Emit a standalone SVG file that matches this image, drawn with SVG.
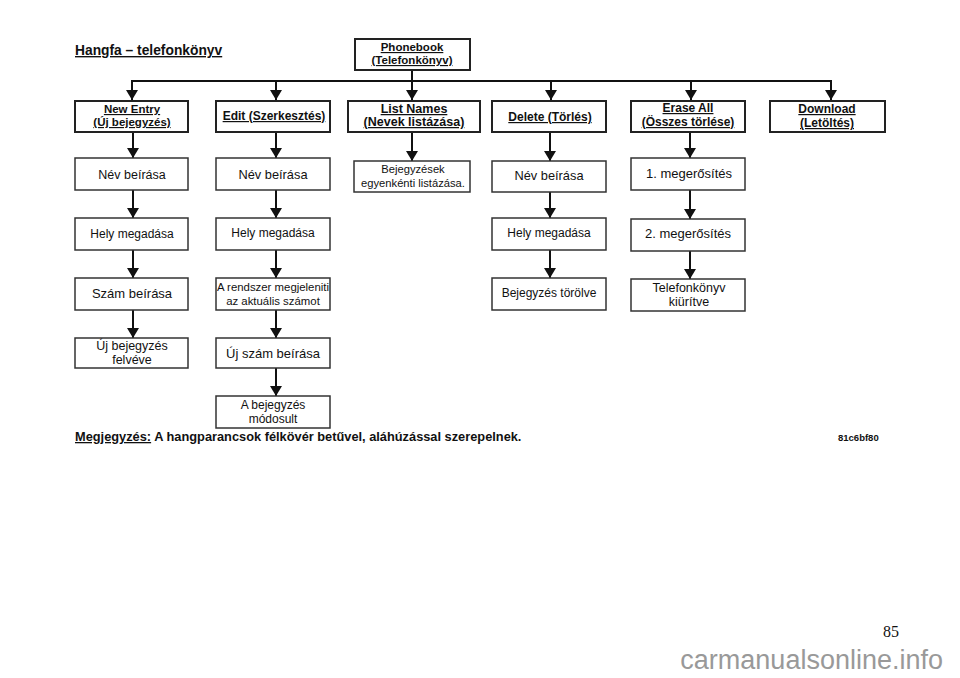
<svg xmlns="http://www.w3.org/2000/svg" width="960" height="678" viewBox="0 0 960 678">
<style>
text{font-family:"Liberation Sans",Arial,sans-serif;fill:#111;text-anchor:middle}
.hb rect{fill:#fff;stroke:#222;stroke-width:2}
.hb text{font-weight:bold;font-size:12px;text-decoration:underline}
.nb rect{fill:#fff;stroke:#333;stroke-width:1.5}
.nb text{font-size:12px}
.c line{stroke:#111;stroke-width:2;fill:none}
</style>
<defs>
<marker id="ah" viewBox="0 0 10 12" refX="10" refY="6" markerWidth="10" markerHeight="12" markerUnits="userSpaceOnUse" orient="auto">
<path d="M0,0 L10,6 L0,12 z" fill="#111"/>
</marker>
</defs>
<rect width="960" height="678" fill="#fff"/>
<text x="75" y="55" style="text-anchor:start;font-weight:bold;font-size:13.8px;text-decoration:underline">Hangfa – telefonkönyv</text>

<g class="c">
<line x1="412" y1="70" x2="412" y2="81"/>
<line x1="131" y1="81" x2="832" y2="81"/>
<line x1="132" y1="80" x2="132" y2="100" marker-end="url(#ah)"/>
<line x1="276" y1="80" x2="276" y2="100" marker-end="url(#ah)"/>
<line x1="412" y1="80" x2="412" y2="100" marker-end="url(#ah)"/>
<line x1="551" y1="80" x2="551" y2="100" marker-end="url(#ah)"/>
<line x1="691" y1="80" x2="691" y2="100" marker-end="url(#ah)"/>
<line x1="831" y1="80" x2="831" y2="100" marker-end="url(#ah)"/>
<line x1="133" y1="132" x2="133" y2="158" marker-end="url(#ah)"/>
<line x1="133" y1="190" x2="133" y2="218" marker-end="url(#ah)"/>
<line x1="133" y1="250" x2="133" y2="278" marker-end="url(#ah)"/>
<line x1="133" y1="310" x2="133" y2="338" marker-end="url(#ah)"/>
<line x1="276" y1="132" x2="276" y2="158" marker-end="url(#ah)"/>
<line x1="276" y1="190" x2="276" y2="218" marker-end="url(#ah)"/>
<line x1="276" y1="250" x2="276" y2="278" marker-end="url(#ah)"/>
<line x1="276" y1="310" x2="276" y2="338" marker-end="url(#ah)"/>
<line x1="276" y1="368" x2="276" y2="396" marker-end="url(#ah)"/>
<line x1="412" y1="132" x2="412" y2="161" marker-end="url(#ah)"/>
<line x1="550" y1="132" x2="550" y2="161" marker-end="url(#ah)"/>
<line x1="550" y1="192" x2="550" y2="218" marker-end="url(#ah)"/>
<line x1="550" y1="250" x2="550" y2="278" marker-end="url(#ah)"/>
<line x1="690" y1="132" x2="690" y2="158" marker-end="url(#ah)"/>
<line x1="690" y1="190" x2="690" y2="219" marker-end="url(#ah)"/>
<line x1="690" y1="251" x2="690" y2="279" marker-end="url(#ah)"/>
</g>

<g id="phonebook" class="hb"><rect x="355" y="39" width="115" height="31"/><text x="412" y="51" style="font-size:11.5px">Phonebook</text><text x="412" y="64" style="font-size:11.5px">(Telefonkönyv)</text></g>

<g id="newentry" class="hb"><rect x="75" y="101" width="113" height="31"/><text x="132" y="113" style="font-size:11.5px">New Entry</text><text x="132" y="126" style="font-size:11.5px">(Új bejegyzés)</text></g>
<g id="edit" class="hb"><rect x="216" y="101" width="114" height="31"/><text x="274" y="120">Edit (Szerkesztés)</text></g>
<g id="listnames" class="hb"><rect x="348" y="101" width="132" height="31"/><text x="414" y="113" style="font-size:12.5px">List Names</text><text x="414" y="126" style="font-size:12.5px">(Nevek listázása)</text></g>
<g id="delete" class="hb"><rect x="492" y="101" width="114" height="31"/><text x="550" y="121">Delete (Törlés)</text></g>
<g id="eraseall" class="hb"><rect x="631" y="101" width="114" height="31"/><text x="688" y="112">Erase All</text><text x="688" y="126">(Összes törlése)</text></g>
<g id="download" class="hb"><rect x="770" y="101" width="115" height="31"/><text x="827" y="113">Download</text><text x="827" y="127">(Letöltés)</text></g>

<g id="n1a" class="nb"><rect x="75" y="158" width="113" height="32"/><text x="132" y="179" style="font-size:12.5px">Név beírása</text></g>
<g id="n1b" class="nb"><rect x="75" y="218" width="113" height="32"/><text x="132" y="238" style="font-size:12px">Hely megadása</text></g>
<g id="n1c" class="nb"><rect x="75" y="278" width="113" height="32"/><text x="132" y="298" style="font-size:13px">Szám beírása</text></g>
<g id="n1d" class="nb"><rect x="75" y="338" width="113" height="30"/><text x="132" y="350" style="font-size:12.5px">Új bejegyzés</text><text x="132" y="364" style="font-size:12.5px">felvéve</text></g>

<g id="n2a" class="nb"><rect x="216" y="158" width="114" height="32"/><text x="273" y="179" style="font-size:12.8px">Név beírása</text></g>
<g id="n2b" class="nb"><rect x="216" y="218" width="114" height="32"/><text x="273" y="237" style="font-size:12px">Hely megadása</text></g>
<g id="n2c" class="nb"><rect x="216" y="278" width="114" height="32"/><text x="273" y="291" style="font-size:11.4px">A rendszer megjeleniti</text><text x="273" y="305" style="font-size:11.4px">az aktuális számot</text></g>
<g id="n2d" class="nb"><rect x="216" y="338" width="114" height="30"/><text x="273" y="358" style="font-size:13px">Új szám beírása</text></g>
<g id="n2e" class="nb"><rect x="216" y="396" width="114" height="32"/><text x="273" y="409" style="font-size:12px">A bejegyzés</text><text x="273" y="423" style="font-size:12px">módosult</text></g>

<g id="n3a" class="nb"><rect x="354" y="161" width="116" height="31"/><text x="413" y="173" style="font-size:11.2px">Bejegyzések</text><text x="413" y="187" style="font-size:11.2px">egyenkénti listázása.</text></g>

<g id="n4a" class="nb"><rect x="492" y="161" width="114" height="31"/><text x="549" y="180" style="font-size:12.8px">Név beírása</text></g>
<g id="n4b" class="nb"><rect x="492" y="218" width="114" height="32"/><text x="549" y="237" style="font-size:12px">Hely megadása</text></g>
<g id="n4c" class="nb"><rect x="492" y="278" width="114" height="32"/><text x="549" y="297" style="font-size:12px">Bejegyzés törölve</text></g>

<g id="n5a" class="nb"><rect x="631" y="158" width="114" height="32"/><text x="689" y="178" style="font-size:13px">1. megerősítés</text></g>
<g id="n5b" class="nb"><rect x="631" y="219" width="114" height="32"/><text x="688" y="238" style="font-size:13px">2. megerősítés</text></g>
<g id="n5c" class="nb"><rect x="631" y="279" width="114" height="32"/><text x="689" y="292" style="font-size:12.5px">Telefonkönyv</text><text x="689" y="306" style="font-size:12.5px">kiürítve</text></g>

<text x="75" y="441" style="text-anchor:start;font-weight:bold;font-size:12.8px"><tspan style="text-decoration:underline">Megjegyzés:</tspan> A hangparancsok félkövér betűvel, aláhúzással szerepelnek.</text>
<text x="838" y="441" style="text-anchor:start;font-weight:bold;font-size:9.5px">81c6bf80</text>
<text x="891" y="637" style="font-family:'Liberation Serif','Times New Roman',serif;font-size:16px">85</text>
<text x="943" y="669" style="text-anchor:end;font-size:27px;fill:#999">carmanualsonline.info</text>
</svg>
